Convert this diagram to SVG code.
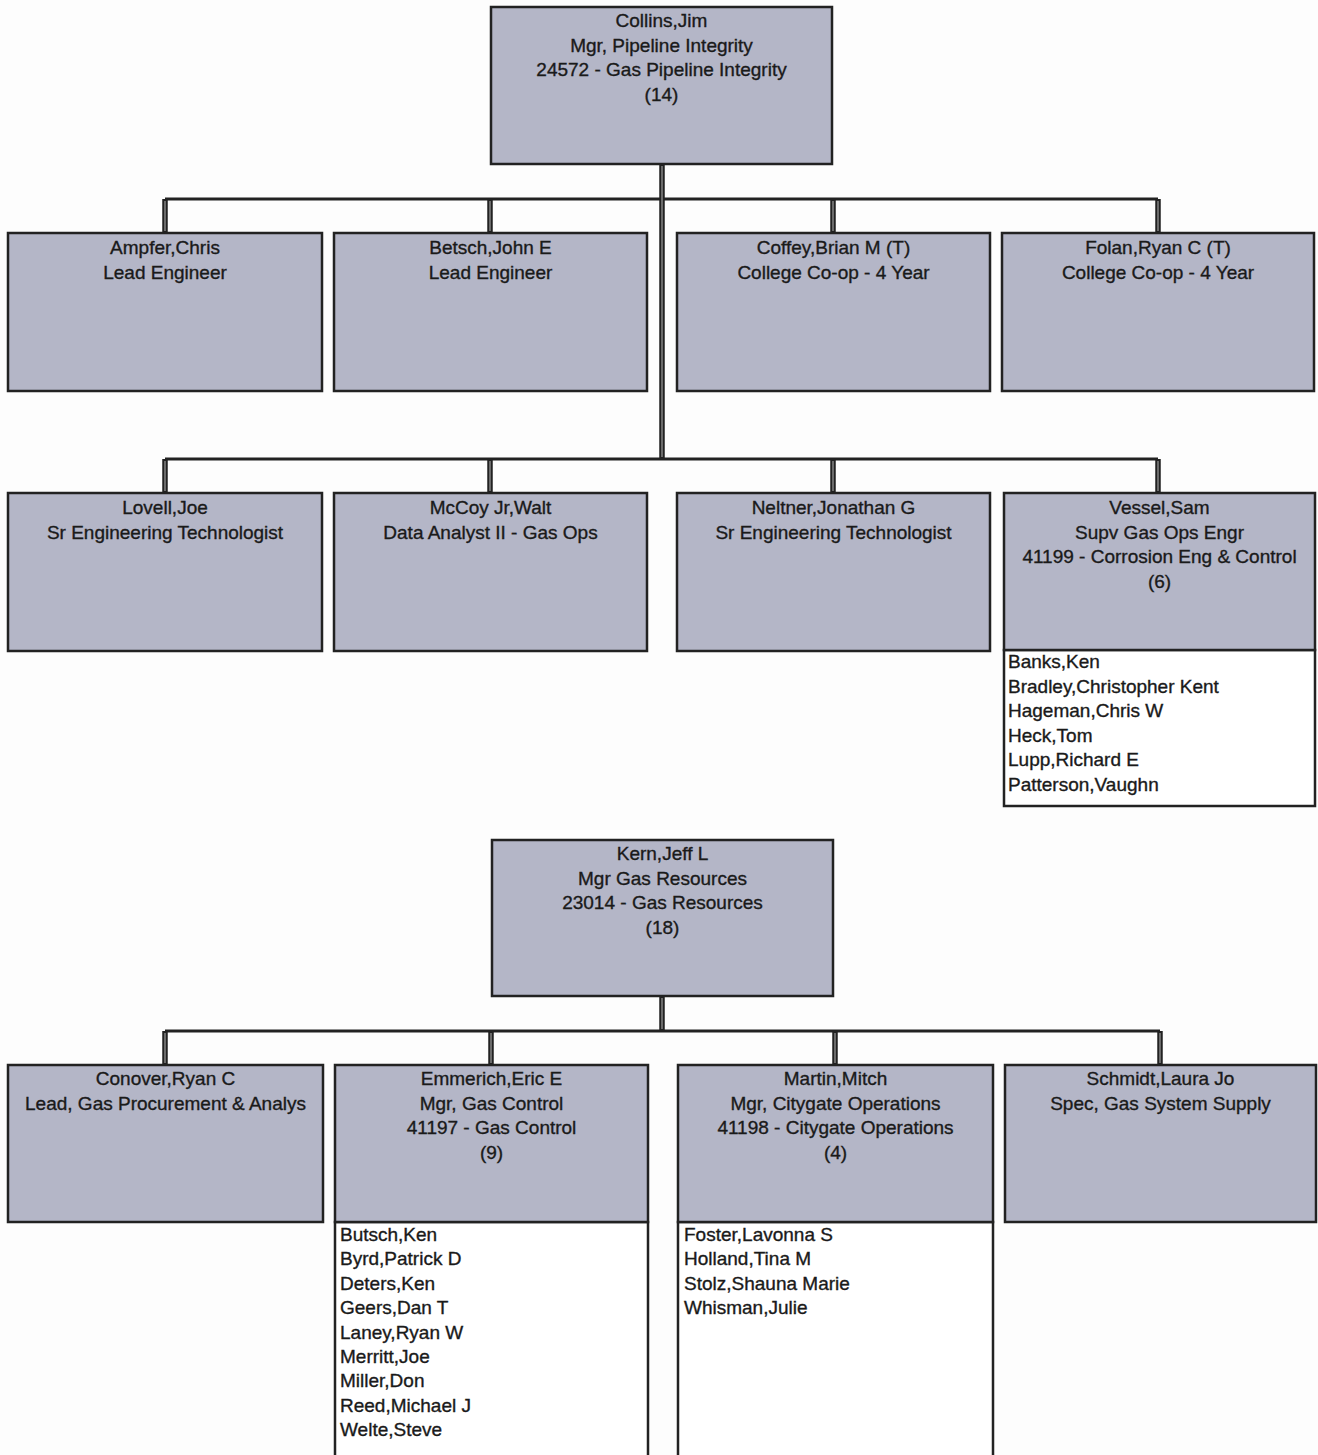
<svg xmlns="http://www.w3.org/2000/svg" width="1318" height="1455" viewBox="0 0 1318 1455">
<style>
.box{fill:#b4b6c7;stroke:#222222;stroke-width:2.5}
.list{fill:#ffffff;stroke:#222222;stroke-width:2.5}
text{font-family:"Liberation Sans",Arial,sans-serif;font-size:19px;fill:#1a1a1a;stroke:#1a1a1a;stroke-width:0.35}
.c{text-anchor:middle}
.h{fill:none;stroke:#222222;stroke-width:2.8}
.v{fill:none;stroke:#222222;stroke-width:5.5}
.vi{fill:none;stroke:#8a8a8a;stroke-width:1.4}
</style>
<rect width="1318" height="1455" fill="#fdfdfd"/>
<g id="connectors">
<path class="h" d="M165 199H1158M165 459H1158M165 1031H1160"/>
<path class="v" d="M662 164V459M165 199V233M490 199V233M833 199V233M1158 199V233M165 459V493M490 459V493M833 459V493M1158 459V493M662 996V1031M165 1031V1065M491 1031V1065M835 1031V1065M1160 1031V1065"/>
<path class="vi" d="M662 166V457M165 201V231M490 201V231M833 201V231M1158 201V231M165 461V491M490 461V491M833 461V491M1158 461V491M662 998V1029M165 1033V1063M491 1033V1063M835 1033V1063M1160 1033V1063"/>
</g>
<g id="collins">
<rect class="box" x="491" y="7" width="341" height="157"/>
<text class="c" x="661.5" y="27">Collins,Jim</text>
<text class="c" x="661.5" y="51.5">Mgr, Pipeline Integrity</text>
<text class="c" x="661.5" y="76">24572 - Gas Pipeline Integrity</text>
<text class="c" x="661.5" y="100.5">(14)</text>
</g>
<g id="ampfer">
<rect class="box" x="8" y="233" width="314" height="158"/>
<text class="c" x="165" y="254">Ampfer,Chris</text>
<text class="c" x="165" y="278.5">Lead Engineer</text>
</g>
<g id="betsch">
<rect class="box" x="334" y="233" width="313" height="158"/>
<text class="c" x="490.5" y="254">Betsch,John E</text>
<text class="c" x="490.5" y="278.5">Lead Engineer</text>
</g>
<g id="coffey">
<rect class="box" x="677" y="233" width="313" height="158"/>
<text class="c" x="833.5" y="254">Coffey,Brian M (T)</text>
<text class="c" x="833.5" y="278.5">College Co-op - 4 Year</text>
</g>
<g id="folan">
<rect class="box" x="1002" y="233" width="312" height="158"/>
<text class="c" x="1158" y="254">Folan,Ryan C (T)</text>
<text class="c" x="1158" y="278.5">College Co-op - 4 Year</text>
</g>
<g id="lovell">
<rect class="box" x="8" y="493" width="314" height="158"/>
<text class="c" x="165" y="514">Lovell,Joe</text>
<text class="c" x="165" y="538.5">Sr Engineering Technologist</text>
</g>
<g id="mccoy">
<rect class="box" x="334" y="493" width="313" height="158"/>
<text class="c" x="490.5" y="514">McCoy Jr,Walt</text>
<text class="c" x="490.5" y="538.5">Data Analyst II - Gas Ops</text>
</g>
<g id="neltner">
<rect class="box" x="677" y="493" width="313" height="158"/>
<text class="c" x="833.5" y="514">Neltner,Jonathan G</text>
<text class="c" x="833.5" y="538.5">Sr Engineering Technologist</text>
</g>
<g id="vessel">
<rect class="list" x="1004" y="650" width="311" height="156"/>
<rect class="box" x="1004" y="493" width="311" height="157"/>
<text class="c" x="1159.5" y="514">Vessel,Sam</text>
<text class="c" x="1159.5" y="538.5">Supv Gas Ops Engr</text>
<text class="c" x="1159.5" y="563">41199 - Corrosion Eng &amp; Control</text>
<text class="c" x="1159.5" y="587.5">(6)</text>
<text x="1008" y="668">Banks,Ken</text>
<text x="1008" y="692.5">Bradley,Christopher Kent</text>
<text x="1008" y="717">Hageman,Chris W</text>
<text x="1008" y="741.5">Heck,Tom</text>
<text x="1008" y="766">Lupp,Richard E</text>
<text x="1008" y="790.5">Patterson,Vaughn</text>
</g>
<g id="kern">
<rect class="box" x="492" y="840" width="341" height="156"/>
<text class="c" x="662.5" y="860">Kern,Jeff L</text>
<text class="c" x="662.5" y="884.5">Mgr Gas Resources</text>
<text class="c" x="662.5" y="909">23014 - Gas Resources</text>
<text class="c" x="662.5" y="933.5">(18)</text>
</g>
<g id="conover">
<rect class="box" x="8" y="1065" width="315" height="157"/>
<text class="c" x="165.5" y="1085">Conover,Ryan C</text>
<text class="c" x="165.5" y="1109.5">Lead, Gas Procurement &amp; Analys</text>
</g>
<g id="emmerich">
<rect class="list" x="335" y="1222" width="313" height="240"/>
<rect class="box" x="335" y="1065" width="313" height="157"/>
<text class="c" x="491.5" y="1085">Emmerich,Eric E</text>
<text class="c" x="491.5" y="1109.5">Mgr, Gas Control</text>
<text class="c" x="491.5" y="1134">41197 - Gas Control</text>
<text class="c" x="491.5" y="1158.5">(9)</text>
<text x="340" y="1241">Butsch,Ken</text>
<text x="340" y="1265.4">Byrd,Patrick D</text>
<text x="340" y="1289.8">Deters,Ken</text>
<text x="340" y="1314.2">Geers,Dan T</text>
<text x="340" y="1338.6">Laney,Ryan W</text>
<text x="340" y="1363">Merritt,Joe</text>
<text x="340" y="1387.4">Miller,Don</text>
<text x="340" y="1411.8">Reed,Michael J</text>
<text x="340" y="1436.2">Welte,Steve</text>
</g>
<g id="martin">
<rect class="list" x="678" y="1222" width="315" height="240"/>
<rect class="box" x="678" y="1065" width="315" height="157"/>
<text class="c" x="835.5" y="1085">Martin,Mitch</text>
<text class="c" x="835.5" y="1109.5">Mgr, Citygate Operations</text>
<text class="c" x="835.5" y="1134">41198 - Citygate Operations</text>
<text class="c" x="835.5" y="1158.5">(4)</text>
<text x="684" y="1241">Foster,Lavonna S</text>
<text x="684" y="1265.4">Holland,Tina M</text>
<text x="684" y="1289.8">Stolz,Shauna Marie</text>
<text x="684" y="1314.2">Whisman,Julie</text>
</g>
<g id="schmidt">
<rect class="box" x="1005" y="1065" width="311" height="157"/>
<text class="c" x="1160.5" y="1085">Schmidt,Laura Jo</text>
<text class="c" x="1160.5" y="1109.5">Spec, Gas System Supply</text>
</g>
</svg>
